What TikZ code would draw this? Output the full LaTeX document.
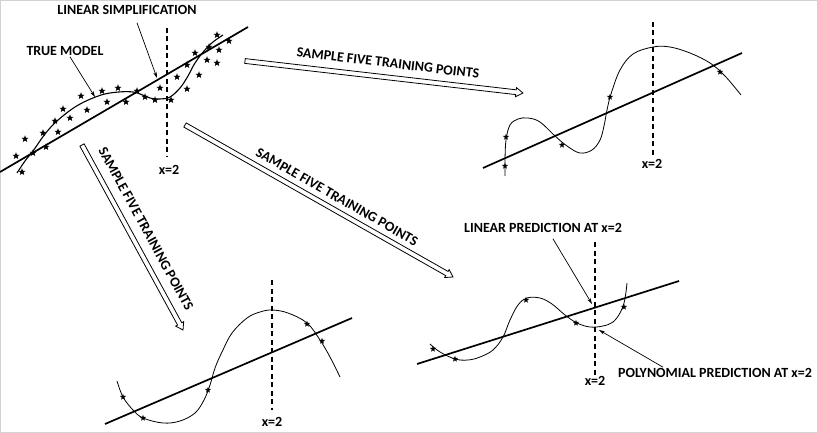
\documentclass[tikz,border=0pt]{standalone}
\usepackage{fontspec}
\setmainfont{Carlito}
\usetikzlibrary{arrows.meta,shapes.geometric}
\tikzset{
  lbl/.style={font=\bfseries\fontsize{14}{16}\selectfont, inner sep=1pt},
  fitline/.style={line width=1.7pt},
  truecurve/.style={line width=1.1pt},
  polycurve/.style={line width=0.8pt},
  vdash/.style={line width=1.3pt, dash pattern=on 5pt off 3.5pt},
  datapt/.style={star, star points=5, star point ratio=2.4, fill=black, inner sep=0pt, minimum size=7.5pt},
  smallpt/.style={star, star points=5, star point ratio=2.4, fill=black, inner sep=0pt, minimum size=6.5pt},
  ptr/.style={-{Stealth[length=6pt,width=3.5pt]}, line width=0.7pt},
  hollow/.style={draw, line width=0.8pt, fill=white, line join=miter},
}
\newcommand\hollowarr[4]{%
  \begin{scope}[shift={(#1)}, rotate=#2]
    \draw[hollow] (0,-2.4) -- (#3-7,-2.4) -- (#3-7,-4.6) -- (#3,0) -- (#3-7,4.6) -- (#3-7,2.4) -- (0,2.4) -- cycle;
  \end{scope}}
\begin{document}
\begin{tikzpicture}[x=1pt,y=-1pt]
\useasboundingbox (0,0) rectangle (818,433);
\draw[gray!35, line width=1pt] (0.5,0.5) rectangle (817.5,432.5);

% ---------- top-left panel: data ----------
\coordinate (tlA) at (0,172);
\coordinate (tlB) at (248,27);
\draw[fitline] (tlA) -- (tlB);
\draw[truecurve] plot[smooth, tension=0.6] coordinates {(17,173) (25,161) (33,151) (45,134) (57,121) (75,107) (93,98) (110,93) (133,92) (150,98) (160,99) (170,97) (180,88) (188,76) (195,63) (204,51) (213,42) (223,35)};
\coordinate (tlD1) at (167,28);
\coordinate (tlD2) at (167,157);
\draw[vdash] (tlD1) -- (tlD2);
\node[lbl] (tlx) at (169,170) {x=2};
\foreach \p in {(217,35),(229,41),(209,47),(195,53),(219,50),(207,60),(217,63),(187,65),(199,75),(177,77),(160,88),(187,89),(145,97),(155,100),(171,100),(137,91),(126,102),(118,88),(102,91),(81,96),(107,102),(87,110),(63,109),(70,118),(55,121),(58,132),(43,133),(25,139),(46,147),(33,153),(16,156),(22,172)}
  \node[datapt] at \p {};
\node[lbl] (ls) at (127,10) {LINEAR SIMPLIFICATION};
\coordinate (lsE) at (157,78);
\draw[ptr] ([xshift=10pt,yshift=-7pt]ls.south) -- (lsE);
\node[lbl] (tm) at (65,51) {TRUE MODEL};
\coordinate (tmE) at (95,97);
\draw[ptr] ([xshift=5pt]tm.south) -- (tmE);

% ---------- hollow arrows ----------
\coordinate (a1) at (245,61);
\coordinate (a2) at (185,125);
\coordinate (a3) at (82,145);
\hollowarr{a1}{-6.57}{279.8}{}
\hollowarr{a2}{-29.56}{308.1}{}
\hollowarr{a3}{-61.37}{210.8}{}
\node[lbl, rotate=-6.8] (t1) at (388,63) {SAMPLE FIVE TRAINING POINTS};
\node[lbl, rotate=-29.6] (t2) at (337,197) {SAMPLE FIVE TRAINING POINTS};
\node[lbl, rotate=-61.4] (t3) at (146,229) {SAMPLE FIVE TRAINING POINTS};

% ---------- top-right panel ----------
\coordinate (trA) at (483,168);
\coordinate (trB) at (742,53);
\draw[fitline] (trA) -- (trB);
\draw[polycurve] plot[smooth, tension=0.6] coordinates {(505,176) (505,160) (506,140) (510,125) (518,119) (528,118) (540,122) (555,136) (567,146) (580,153) (592,150) (600,140) (604,126) (607,110) (611,94) (620,70) (633,54) (653,47) (670,47) (690,53) (710,63) (725,76) (741,95)};
\coordinate (trD1) at (653,22);
\coordinate (trD2) at (653,155);
\draw[vdash] (trD1) -- (trD2);
\node[lbl] (trx) at (652,164) {x=2};
\foreach \p in {(506,137),(505,166),(562,145),(610,97),(720,72)}
  \node[smallpt] at \p {};

% ---------- bottom-left panel ----------
\coordinate (blA) at (105,424);
\coordinate (blB) at (352,318);
\draw[fitline] (blA) -- (blB);
\draw[polycurve] plot[smooth, tension=0.6] coordinates {(117,381) (123,397) (133,410) (143,418) (163,423) (180,421) (195,413) (204,400) (210,385) (215,368) (222,352) (232,333) (247,318) (260,312) (272,310) (288,313) (307,323) (320,340) (330,357) (340,377)};
\coordinate (blD1) at (272,280);
\coordinate (blD2) at (272,410);
\draw[vdash] (blD1) -- (blD2);
\node[lbl] (blx) at (272,422) {x=2};
\foreach \p in {(123,397),(143,418),(208,390),(307,324),(322,341)}
  \node[smallpt] at \p {};

% ---------- bottom-right panel ----------
\coordinate (brA) at (417,364);
\coordinate (brB) at (679,281);
\draw[fitline] (brA) -- (brB);
\draw[polycurve] plot[smooth, tension=0.6] coordinates {(430,344) (440,352) (455,359) (468,360) (480,357) (493,350) (503,337) (510,320) (518,305) (527,298) (540,298) (552,304) (565,315) (577,323) (590,327) (603,326) (613,322) (620,313) (624,303) (626,292) (627,283)};
\coordinate (brD1) at (595,242);
\coordinate (brD2) at (595,375);
\draw[vdash] (brD1) -- (brD2);
\node[lbl] (brx) at (595,381) {x=2};
\foreach \p in {(433,349),(455,359),(526,300),(576,323),(624,307)}
  \node[smallpt] at \p {};
\node[lbl] (lp) at (543,228) {LINEAR PREDICTION AT x=2};
\coordinate (lpE) at (592,304);
\draw[ptr] ([xshift=10pt,yshift=-5pt]lp.south) -- (lpE);
\node[lbl] (pp) at (715,373) {POLYNOMIAL PREDICTION AT x=2};
\coordinate (ppE) at (599,330);
\draw[ptr] ([xshift=-52pt]pp.north) -- (ppE);
\end{tikzpicture}
\end{document}
